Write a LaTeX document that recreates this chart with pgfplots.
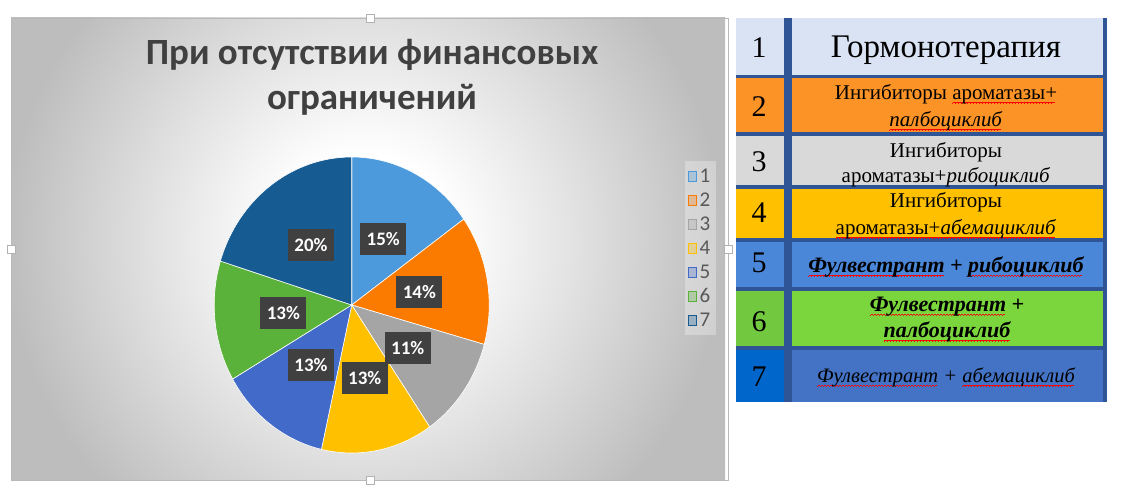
\documentclass[border=0pt]{standalone}
\usepackage{pgfplots}
\usepackage{pgfplotstable}
\pgfplotsset{compat=1.18}
\usepackage{fontspec}
\setmainfont{Liberation Serif}
\newfontfamily\carlito{Carlito}

% red wavy "spelling" underline
\newcommand\wavebit{\rule[-3.8pt]{0.75pt}{0.7pt}\rule[-3.2pt]{0.75pt}{0.7pt}\rule[-2.6pt]{0.75pt}{0.7pt}\rule[-3.2pt]{0.75pt}{0.7pt}}
\newcommand\spell[1]{\setbox0\hbox{#1}\rlap{\hbox to\wd0{\color{red}\leaders\hbox{\wavebit}\hfill}}\box0\relax}

% slice colours
\definecolor{pie0}{RGB}{76,154,219}
\definecolor{pie1}{RGB}{250,123,0}
\definecolor{pie2}{RGB}{165,165,165}
\definecolor{pie3}{RGB}{255,192,0}
\definecolor{pie4}{RGB}{65,106,201}
\definecolor{pie5}{RGB}{91,178,58}
\definecolor{pie6}{RGB}{22,91,146}
\definecolor{labelbox}{RGB}{64,64,64}
\definecolor{titlegray}{RGB}{64,64,64}
\definecolor{keygray}{RGB}{89,89,89}
% table colours
\definecolor{tabborder}{RGB}{47,85,151}
\definecolor{row1}{RGB}{218,227,243}
\definecolor{row2}{RGB}{251,147,38}
\definecolor{row3}{RGB}{217,217,217}
\definecolor{row4}{RGB}{255,192,0}
\definecolor{row5}{RGB}{74,135,217}
\definecolor{row6}{RGB}{122,214,60}
\definecolor{row6n}{RGB}{114,200,62}
\definecolor{row7}{RGB}{68,114,196}
\definecolor{row7n}{RGB}{0,102,204}

% the central 50bp square covers the shaded path
\pgfdeclareradialshading{chartglow}{\pgfpoint{0bp}{0bp}}{%
  color(0bp)=(white); color(6bp)=(white); color(15bp)=(gray!24); color(25bp)=(gray!52); color(50bp)=(gray!52)}

% shares in percent, as labelled
\pgfplotstableread{
slice share
1 15
2 14
3 11
4 13
5 13
6 13
7 20
}\piedata

% cumulative angles, clockwise from 12 o'clock
\gdef\pietotal{0}
\foreach \i in {0,...,6}{%
  \pgfplotstablegetelem{\i}{share}\of\piedata
  \pgfmathsetmacro\t{\pietotal+\pgfplotsretval}%
  \xdef\pietotal{\t}%
}
\gdef\cumangle{90}
\foreach \i in {0,...,6}{%
  \pgfplotstablegetelem{\i}{share}\of\piedata
  \xdef\curval{\pgfplotsretval}%
  \pgfmathsetmacro\sweep{360*\curval/\pietotal}%
  \pgfmathsetmacro\endang{\cumangle-\sweep}%
  \pgfmathsetmacro\midang{\cumangle-\sweep/2}%
  \pgfmathsetmacro\ax{cos(\cumangle)}%
  \pgfmathsetmacro\ay{sin(\cumangle)}%
  \pgfmathsetmacro\lx{0.5*cos(\midang)}%
  \pgfmathsetmacro\ly{0.5*sin(\midang)}%
  \expandafter\xdef\csname pieA\i\endcsname{\cumangle}%
  \expandafter\xdef\csname pieB\i\endcsname{\endang}%
  \expandafter\xdef\csname pieAx\i\endcsname{\ax}%
  \expandafter\xdef\csname pieAy\i\endcsname{\ay}%
  \expandafter\xdef\csname pieLx\i\endcsname{\lx}%
  \expandafter\xdef\csname pieLy\i\endcsname{\ly}%
  \expandafter\xdef\csname pieV\i\endcsname{\curval}%
  \xdef\cumangle{\endang}%
}

\tikzset{
  piebox/.style={fill=labelbox, text=white, font=\carlito\bfseries\fontsize{19}{19}\selectfont,
    minimum width=46pt, minimum height=32pt, inner sep=0pt},
  img/.style={x=1pt, y=-1pt, shift={(0pt,494pt)}},
}

\begin{document}
\begin{tikzpicture}[x=1pt,y=1pt]
\useasboundingbox (0,0) rectangle (1122,494);

% chart panel
\begin{scope}[img]
  \begin{scope}
    \clip (11,18) rectangle (728,480);
    \shade[shading=chartglow] (5,-120) rectangle (725,600);
  \end{scope}
  \draw[gray!55, line width=0.8pt] (11,18) rectangle (728,480);
  \foreach \p in {(370,18),(370,480),(11,249),(728,249)}
    \draw[gray!60, fill=white, line width=0.6pt] \p ++(-4,-4) rectangle ++(8,8);
  \node[anchor=base, text=titlegray, font=\carlito\bfseries\fontsize{37}{37}\selectfont] at (372,65) {При отсутствии финансовых};
  \node[anchor=base, text=titlegray, font=\carlito\bfseries\fontsize{37}{37}\selectfont] at (372,110) {ограничений};
\end{scope}

\begin{axis}[
  at={(351.7pt,189pt)}, anchor=center,
  scale only axis, width=275pt, height=296pt,
  hide axis, clip=false,
  xmin=-1, xmax=1, ymin=-1, ymax=1,
  legend image code/.code={\fill[#1] (0pt,-5pt) rectangle (8pt,5pt);},
  legend style={at={(1.769,0.6926)}, anchor=center, draw=none,
    fill=white, fill opacity=0.3, text opacity=1, text=keygray,
    row sep=0pt, inner sep=3pt,
    nodes={font=\carlito\fontsize{21}{21}\selectfont, text=keygray,
      text height=14pt, text depth=0pt, inner ysep=5pt, inner xsep=3pt}},
]
\pgfplotsinvokeforeach{0,...,6}{%
  \edef\slicecmd{\noexpand\fill[pie#1, draw=white, line width=0.6pt]
    (axis cs:0,0) -- (axis cs:\csname pieAx#1\endcsname,\csname pieAy#1\endcsname)
    arc[start angle=\csname pieA#1\endcsname, end angle=\csname pieB#1\endcsname,
        x radius=137.5pt, y radius=148pt] -- cycle;}%
  \slicecmd
}
\pgfplotsinvokeforeach{0,...,6}{%
  \edef\labelcmd{\noexpand\node[piebox] at
    (axis cs:\csname pieLx#1\endcsname,\csname pieLy#1\endcsname)
    {\csname pieV#1\endcsname\noexpand\%};}%
  \labelcmd
}
\addlegendimage{pie0}\addlegendentry{1}
\addlegendimage{pie1}\addlegendentry{2}
\addlegendimage{pie2}\addlegendentry{3}
\addlegendimage{pie3}\addlegendentry{4}
\addlegendimage{pie4}\addlegendentry{5}
\addlegendimage{pie5}\addlegendentry{6}
\addlegendimage{pie6}\addlegendentry{7}
\end{axis}

% key table
\begin{scope}[img]
  \fill[tabborder] (736,18) rectangle (1107,402);
  \fill[row1] (736,18) rectangle (784,75);   \fill[row1] (792,18) rectangle (1103,75);
  \fill[row2] (736,78) rectangle (784,132);  \fill[row2] (792,78) rectangle (1103,132);
  \fill[row3] (736,136) rectangle (784,185); \fill[row3] (792,136) rectangle (1103,185);
  \fill[row4] (736,189) rectangle (784,238); \fill[row4] (792,189) rectangle (1103,238);
  \fill[row5] (736,242) rectangle (784,287); \fill[row5] (792,242) rectangle (1103,287);
  \fill[row6n] (736,291) rectangle (784,346); \fill[row6] (792,291) rectangle (1103,346);
  \fill[row7n] (736,350) rectangle (784,402); \fill[row7] (792,350) rectangle (1103,402);

  \begin{scope}[every node/.style={anchor=base, inner sep=0pt}]
    \foreach \n/\y in {1/58, 2/117, 3/172, 4/223, 5/273, 6/332, 7/387}
      \node[font=\fontsize{30}{30}\selectfont] at (759,\y) {\n};
    \node[font=\fontsize{33}{33}\selectfont] at (946,58) {Гормонотерапия};
    \begin{scope}[every node/.append style={font=\fontsize{21}{21}\selectfont}]
      \node at (946,100) {Ингибиторы \spell{ароматазы+}};
      \node at (946,127) {\spell{\textit{палбоциклиб}}};
      \node at (946,158) {Ингибиторы};
      \node at (946,183) {ароматазы+\textit{рибоциклиб}};
      \node at (946,208) {Ингибиторы};
      \node at (946,235) {\spell{ароматазы+\textit{абемациклиб}}};
    \end{scope}
    \begin{scope}[every node/.append style={font=\fontsize{22}{22}\selectfont\bfseries\itshape}]
      \node at (946,273) {\spell{Фулвестрант} + \spell{рибоциклиб}};
      \node at (947,312) {\spell{Фулвестрант} +};
      \node at (947,338) {\spell{палбоциклиб}};
    \end{scope}
    \node[font=\fontsize{20.5}{20.5}\selectfont\itshape] at (946,383) {\spell{Фулвестрант} + \spell{абемациклиб}};
  \end{scope}
\end{scope}
\end{tikzpicture}
\end{document}
